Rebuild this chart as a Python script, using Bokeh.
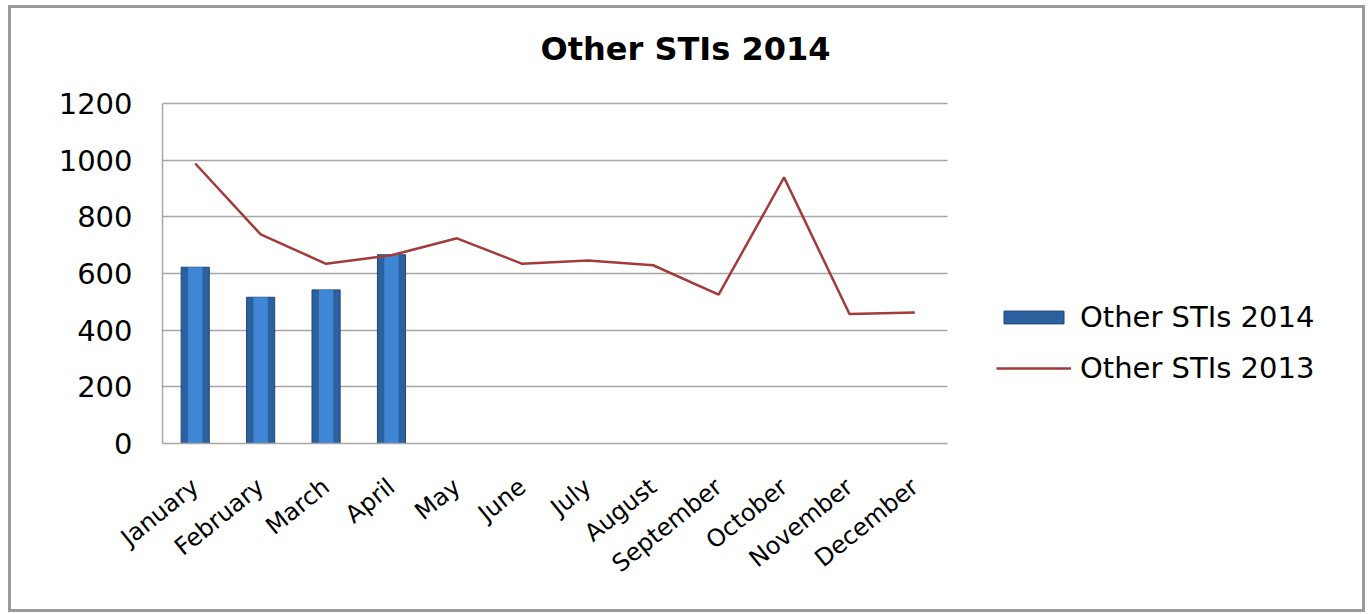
import math
from bokeh.plotting import figure
from bokeh.models import Legend, LegendItem, Range1d, FixedTicker, Label
from bokeh.embed import file_html
from bokeh.resources import INLINE

title_text = "Other STIs 2014"
months = ["January", "February", "March", "April", "May", "June", "July",
          "August", "September", "October", "November", "December"]
sti_2014_months = ["January", "February", "March", "April"]
sti_2014 = [622, 516, 542, 666]
sti_2013 = [988, 738, 634, 664, 724, 634, 646, 629, 525, 939, 457, 462]
y_ticks = [0, 200, 400, 600, 800, 1000, 1200]

pos = list(range(len(months)))
pos_2014 = [months.index(m) for m in sti_2014_months]
x_bounds = (-0.5, len(months) - 0.5)
y_bounds = (0, 1200)

p = figure(width=1357, height=607, title=None, x_range=Range1d(-0.5, 17.78),
           y_range=Range1d(0, 1535), output_backend="svg", toolbar_location=None,
           min_border_left=151, min_border_right=10, min_border_top=0, min_border_bottom=172)
p.styles = {"border": "3px solid #9a9a9a", "box-sizing": "border-box",
            "margin-left": "8px", "margin-top": "5px"}

p.outline_line_color = None
p.xgrid.grid_line_color = None
p.ygrid.grid_line_color = "#a6a6a6"
p.ygrid.grid_line_width = 1.5
p.ygrid.cross_bounds = x_bounds
p.yaxis.ticker = FixedTicker(ticks=y_ticks)
p.yaxis.bounds = y_bounds
p.yaxis.axis_line_color = "#a6a6a6"
p.yaxis.axis_line_width = 1.5
p.yaxis.major_tick_line_color = None
p.yaxis.minor_tick_line_color = None
p.yaxis.major_label_text_font = "DejaVu Sans"
p.yaxis.major_label_text_font_size = "29px"
p.yaxis.major_label_text_color = "#000000"
p.yaxis.major_label_standoff = 24

p.xaxis.ticker = FixedTicker(ticks=pos)
p.xaxis.major_label_overrides = {i: m for i, m in zip(pos, months)}
p.xaxis.bounds = x_bounds
p.xaxis.axis_line_color = "#a6a6a6"
p.xaxis.axis_line_width = 1.5
p.xaxis.major_tick_line_color = None
p.xaxis.minor_tick_line_color = None
p.xaxis.major_label_text_font = "DejaVu Sans"
p.xaxis.major_label_text_font_size = "24px"
p.xaxis.major_label_text_color = "#000000"
p.xaxis.major_label_orientation = 0.68
p.xaxis.major_label_standoff = 34

bars = p.vbar(x=pos_2014, top=sti_2014, width=0.43, fill_color="#2c619f",
              line_color="#1f4577", line_width=1)
p.vbar(x=pos_2014, top=sti_2014, width=0.22, fill_color="#3f86d4",
       line_color=None)
line = p.line(x=pos, y=sti_2013, line_color="#a33b3b", line_width=2.5)

title = Label(x=523, y=395, x_units="screen", y_units="screen", text=title_text,
              text_align="center", text_baseline="middle", text_font="DejaVu Sans",
              text_font_style="bold", text_font_size="32px", text_color="#000000")
p.add_layout(title)

legend = Legend(items=[LegendItem(label="Other STIs 2014", renderers=[bars]),
                       LegendItem(label="Other STIs 2013", renderers=[line])],
                location=(834, 58), padding=0, margin=0, spacing=17,
                glyph_width=75, glyph_height=16, label_height=30,
                label_text_font="DejaVu Sans", label_text_font_size="29px",
                label_text_color="#000000",
                label_standoff=9, border_line_color=None, background_fill_alpha=0)
p.add_layout(legend, "center")

open("out.html", "w").write(file_html(p, INLINE))
